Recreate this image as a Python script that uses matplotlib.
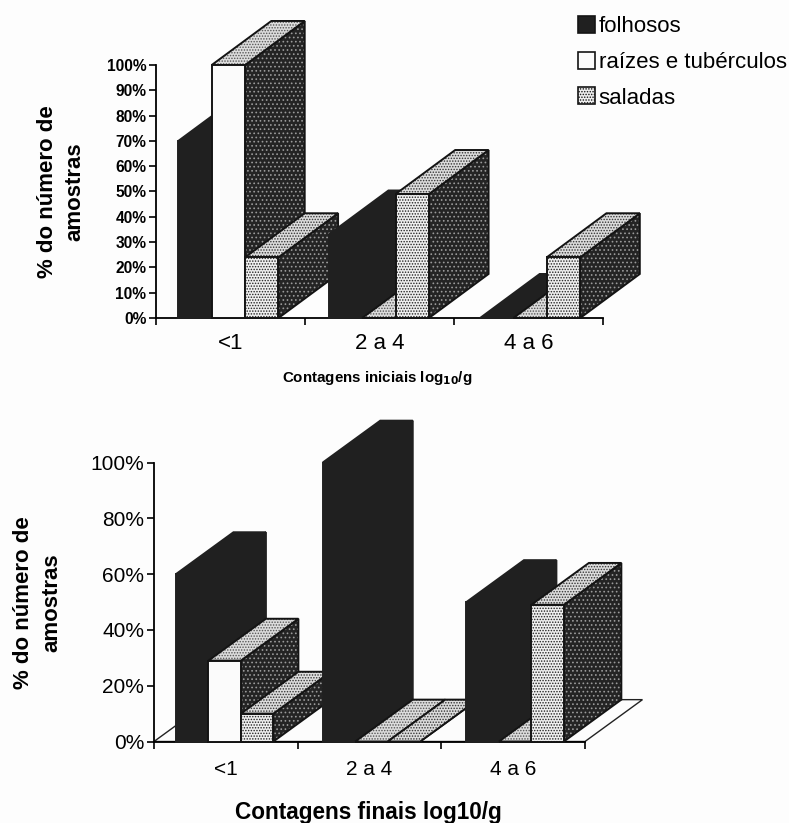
import matplotlib
matplotlib.use('Agg')
import matplotlib.pyplot as plt
from matplotlib.patches import Polygon, Patch
from matplotlib.ticker import PercentFormatter

plt.rcParams['font.family'] = ['Liberation Sans', 'DejaVu Sans']
plt.rcParams['hatch.linewidth'] = 0.7

categories = ['<1', '2 a 4', '4 a 6']
series_names = ['folhosos', 'raízes e tubérculos', 'saladas']

# valores (%)
inicial_folhosos = [70, 33, 0]
inicial_raizes = [100, 0, 0]
inicial_saladas = [24, 49, 24]

final_folhosos = [60, 100, 50]
final_raizes = [29, 0, 0]
final_saladas = [10, 0, 49]

INK = '#141414'
DARK = '#202020'

# cada face: (fundo, cor do pontilhado, hatch)
dark = {'side': (DARK, DARK, None), 'top': (DARK, DARK, None), 'front': (DARK, DARK, None)}
white = {'side': ('#242424', '#9a9a9a', '....'), 'top': ('#dcdcdc', '#555555', '......'),
         'front': ('#fbfbfb', '#fbfbfb', None)}
dots = {'side': ('#242424', '#9a9a9a', '....'), 'top': ('#dcdcdc', '#333333', '......'),
        'front': ('#efefef', '#222222', '......')}
styles = [dark, white, dots]


def draw_bar(ax, x0, width, height, dx, dy, style, lw):
    x1 = x0 + width
    # face lateral, topo e frente
    side = [(x1, 0), (x1 + dx, dy), (x1 + dx, height + dy), (x1, height)]
    top = [(x0, height), (x1, height), (x1 + dx, height + dy), (x0 + dx, height + dy)]
    front = [(x0, 0), (x1, 0), (x1, height), (x0, height)]
    for pts, key in ((side, 'side'), (top, 'top'), (front, 'front')):
        fc, hc, hatch = style[key]
        ax.add_patch(Polygon(pts, closed=True, facecolor=fc, edgecolor=hc, hatch=hatch,
                             linewidth=0, clip_on=False, zorder=3))
        line = DARK if style is dark else INK
        ax.add_patch(Polygon(pts, closed=True, fill=False, edgecolor=line, linewidth=lw,
                             clip_on=False, zorder=3))


def draw_chart(ax, series, dx, dy, width, offsets, yticks, tick_size, weight, cat_size, cat_drop, floor):
    ax.set_xlim(0, 3)
    ax.set_ylim(0, 100)
    ax.set_yticks(yticks)
    ax.yaxis.set_major_formatter(PercentFormatter(100, decimals=0))
    ax.set_xticks([0, 1, 2, 3])
    ax.set_xticklabels([])
    ax.tick_params(axis='y', labelsize=tick_size, length=5, width=1.2, pad=2, direction='out')
    ax.tick_params(axis='x', length=5, width=1.2, direction='out')
    for lab in ax.get_yticklabels():
        lab.set_fontweight(weight)
    ax.patch.set_alpha(0)
    for s in ('top', 'right'):
        ax.spines[s].set_visible(False)
    ax.spines['left'].set_linewidth(1.3)
    ax.spines['bottom'].set_linewidth(1.3)
    for i, lab in enumerate(categories):
        ax.annotate(lab, (i + 0.5, 0), xytext=(0, -cat_drop), textcoords='offset pixels',
                    ha='center', va='center', fontsize=cat_size)
    if floor:
        ax.add_patch(Polygon([(0, 0), (3, 0), (3 + dx, dy), (dx, dy)], closed=True,
                             facecolor='#fcfcfc', edgecolor='#222222', linewidth=1,
                             clip_on=False, zorder=2))
    for i in range(len(categories)):
        for j, vals in enumerate(series):
            x0 = i + offsets[i] + j * width
            draw_bar(ax, x0, width, vals[i], dx, dy, styles[j], 1.4)


fig = plt.figure(figsize=(7.89, 8.23), dpi=100, facecolor='#fdfdfd')

# grafico de cima
ax1 = fig.add_axes([156 / 789, 1 - 318 / 823, 447 / 789, 253 / 823])
draw_chart(ax1, [inicial_folhosos, inicial_raizes, inicial_saladas], 0.40, 17.4, 0.224,
           [0.15, 0.16, 0.175], list(range(0, 101, 10)), 11.2, 'bold', 16, 26, False)
ax1.set_ylabel('% do número de\namostras', fontsize=16, fontweight='bold', linespacing=1.37)
ax1.yaxis.set_label_coords((85 - 156) / 447, 0.498)
ax1.text(0.494, -0.237, 'Contagens iniciais log$_{\\mathbf{10}}$/g', transform=ax1.transAxes,
         fontsize=10.9, fontweight='bold', ha='center', va='center')

# grafico de baixo
ax2 = fig.add_axes([154 / 789, 1 - 741.5 / 823, 431 / 789, 279 / 823])
draw_chart(ax2, [final_folhosos, final_raizes, final_saladas], 0.40, 15.0, 0.226,
           [0.153, 0.175, 0.175], list(range(0, 101, 20)), 15, 'normal', 15, 28, True)
ax2.set_ylabel('% do número de\namostras', fontsize=16, fontweight='bold', linespacing=1.45)
ax2.yaxis.set_label_coords((62 - 154) / 431, 0.496)
ax2.text(0.497, -0.253, 'Contagens finais log10/g', transform=ax2.transAxes,
         fontsize=16.3, fontweight='bold', ha='center', va='center')

handles = [Patch(facecolor=styles[k]['front'][0], edgecolor=INK, hatch=styles[k]['front'][2], linewidth=1.2)
           for k in range(3)]
fig.legend(handles, series_names, loc='upper left', bbox_to_anchor=(578 / 789, 1 - 16 / 823),
           frameon=False, fontsize=16, handlelength=0.78, handleheight=0.8, handletextpad=0.15,
           labelspacing=0.65, borderpad=0, borderaxespad=0)

fig.savefig('out.png', dpi=100, facecolor=fig.get_facecolor())
